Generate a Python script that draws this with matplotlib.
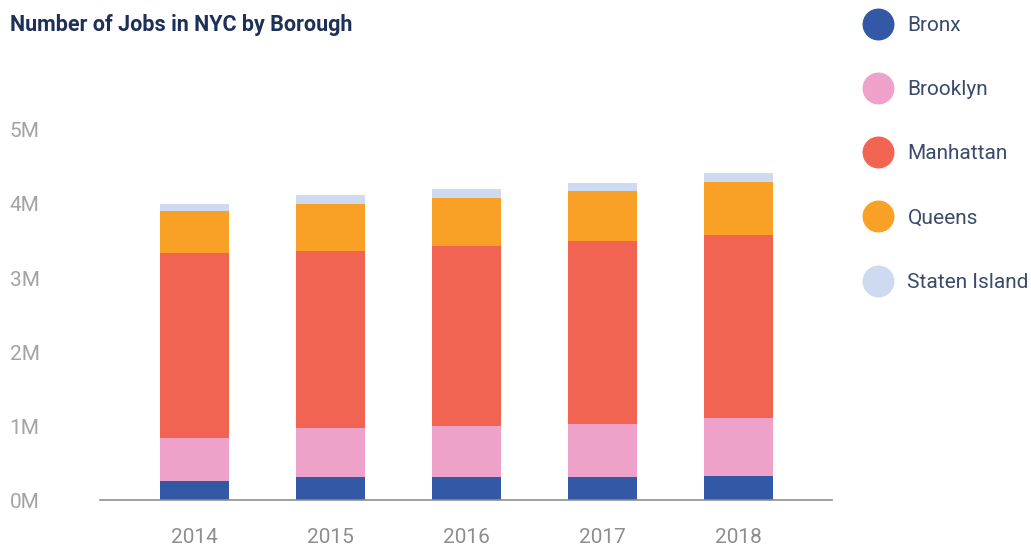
import numpy as np
import matplotlib
matplotlib.use('Agg')
import matplotlib.pyplot as plt
from matplotlib.lines import Line2D

plt.rcParams['font.family'] = ['Roboto', 'DejaVu Sans']

years = ['2014', '2015', '2016', '2017', '2018']
boroughs = ['Bronx', 'Brooklyn', 'Manhattan', 'Queens', 'Staten Island']
# jobs in millions
bronx = [0.26, 0.31, 0.31, 0.31, 0.32]
brooklyn = [0.58, 0.66, 0.69, 0.72, 0.79]
manhattan = [2.50, 2.39, 2.43, 2.47, 2.47]
queens = [0.57, 0.64, 0.65, 0.68, 0.72]
staten = [0.09, 0.12, 0.12, 0.10, 0.12]
colors = ['#3358a5', '#eea2c9', '#f26452', '#f9a127', '#cddaf0']

fig = plt.figure(figsize=(10.31, 5.47), dpi=100)
ax = fig.add_axes([100 / 1031, 47 / 547, 732 / 1031, (500 - 93) / 547])

x = np.arange(len(years))
bottom = np.zeros(len(years))
for vals, c in zip([bronx, brooklyn, manhattan, queens, staten], colors):
    ax.bar(x, np.array(vals) * 1e6, 0.507, bottom=bottom, color=c, zorder=2)
    bottom += np.array(vals) * 1e6

ax.set_xlim(-0.695, len(years) - 1 + 0.69)
ax.set_ylim(0, 5.5e6)
ax.set_xticks(x)
ax.set_xticklabels(years)
ax.set_yticks([i * 1e6 for i in range(6)])
ax.set_yticklabels([f'{i}M' for i in range(6)], ha='left')
ax.tick_params(axis='x', length=0, pad=20, labelsize=15, labelcolor='#8d8d8d')
ax.tick_params(axis='y', length=0, pad=65, labelsize=15, labelcolor='#a3a3a3')
for s in ['top', 'right', 'left']:
    ax.spines[s].set_visible(False)
ax.spines['bottom'].set_color('#8d8d8d')
ax.spines['bottom'].set_linewidth(1.2)

fig.text(10 / 1031, 1 - 25 / 547, 'Number of Jobs in NYC by Borough', fontsize=15.5,
         fontweight='bold', color='#1d3057', va='center', ha='left')

handles = [Line2D([], [], marker='o', linestyle='none', markersize=22, color=c) for c in colors]
fig.legend(handles, boroughs, loc='upper left', bbox_to_anchor=(857 / 1031, 1 - 16 / 547),
           frameon=False, fontsize=15, labelspacing=2.17, handletextpad=0.42,
           labelcolor='#3d4a6b', borderaxespad=0, borderpad=0)

fig.savefig('out.png', dpi=100)
